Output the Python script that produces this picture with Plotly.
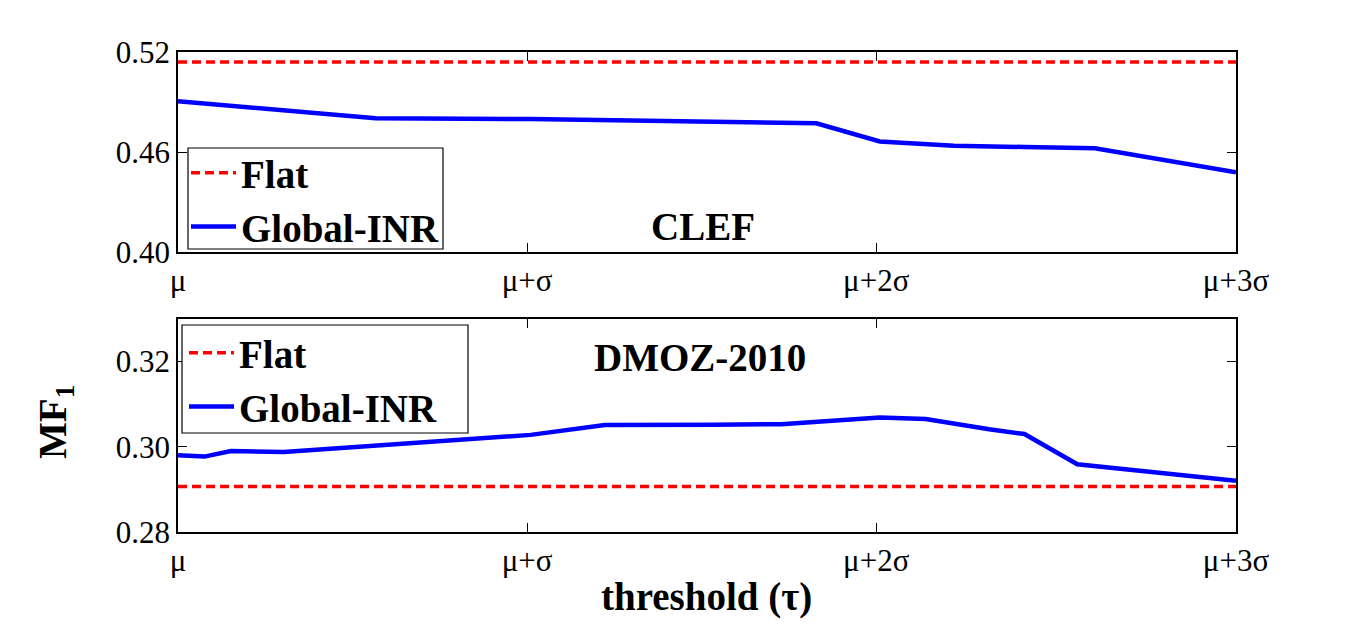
import plotly.graph_objects as go

tick_vals = [0, 0.99, 1.98, 3.0]
tick_text = ["μ", "μ+σ", "μ+2σ", "μ+3σ"]

# CLEF
clef_t = [0, 0.56, 1.0, 1.5, 1.81, 1.99, 2.2, 2.4, 2.6, 3.0]
clef_global = [0.4905, 0.4802, 0.4798, 0.4778, 0.4772, 0.4663, 0.4638, 0.4630, 0.4622, 0.4479]
clef_flat_t = [0, 3]
clef_flat = [0.514, 0.514]

# DMOZ-2010
dmoz_t = [0, 0.075, 0.15, 0.30, 1.0, 1.21, 1.52, 1.71, 1.99, 2.12, 2.30, 2.40, 2.55, 2.85, 3.0]
dmoz_global = [0.2980, 0.2977, 0.2990, 0.2988, 0.3028, 0.3051, 0.3052, 0.3053, 0.3069, 0.3065,
               0.3041, 0.3030, 0.2959, 0.2932, 0.2920]
dmoz_flat_t = [0, 3]
dmoz_flat = [0.2907, 0.2907]

W, H = 1366, 628
FONT = "Liberation Serif"
RED = "#FF0000"
BLUE = "#0000FF"
DASH = "9px,5px"

fig = go.Figure()

fig.add_trace(go.Scatter(x=clef_flat_t, y=clef_flat, mode="lines", name="Flat",
                         line=dict(color=RED, width=3.5, dash=DASH),
                         xaxis="x", yaxis="y", legend="legend"))
fig.add_trace(go.Scatter(x=clef_t, y=clef_global, mode="lines", name="Global-INR",
                         line=dict(color=BLUE, width=4.5),
                         xaxis="x", yaxis="y", legend="legend"))
fig.add_trace(go.Scatter(x=dmoz_flat_t, y=dmoz_flat, mode="lines", name="Flat",
                         line=dict(color=RED, width=3.5, dash=DASH),
                         xaxis="x2", yaxis="y2", legend="legend2"))
fig.add_trace(go.Scatter(x=dmoz_t, y=dmoz_global, mode="lines", name="Global-INR",
                         line=dict(color=BLUE, width=4.5),
                         xaxis="x2", yaxis="y2", legend="legend2"))

xd = [178 / W, 1236 / W]
axis_common = dict(showline=True, linecolor="black", linewidth=1.5, mirror="ticks",
                   ticks="inside", ticklen=9, tickcolor="black", tickwidth=1,
                   showgrid=False, zeroline=False, automargin=False,
                   tickfont=dict(family=FONT, size=31, color="black"))

legend_common = dict(xanchor="left", yanchor="top", borderwidth=0,
                     bgcolor="rgba(0,0,0,0)",
                     font=dict(family=FONT, size=39, color="black", weight="bold"),
                     itemwidth=45, tracegroupgap=0)


def px(x):
    return x / W


def py(y):
    return 1 - y / H


ann_font = dict(family=FONT, size=39, color="black")

fig.update_layout(
    width=W, height=H,
    margin=dict(l=0, r=0, t=0, b=0, pad=0),
    paper_bgcolor="white", plot_bgcolor="white",
    font=dict(family=FONT, color="black"),
    xaxis=dict(domain=xd, anchor="y", range=[0, 3], tickvals=tick_vals, ticktext=tick_text,
               **axis_common),
    yaxis=dict(domain=[py(252), py(52)], anchor="x", range=[0.40, 0.52],
               tickvals=[0.40, 0.46, 0.52], ticktext=["0.40", "0.46", "0.52"], **axis_common),
    xaxis2=dict(domain=xd, anchor="y2", range=[0, 3], tickvals=tick_vals, ticktext=tick_text,
                **axis_common),
    yaxis2=dict(domain=[py(532), py(319)], anchor="x2", range=[0.28, 0.33],
                tickvals=[0.28, 0.30, 0.32], ticktext=["0.28", "0.30", "0.32"], **axis_common),
    legend=dict(x=px(186), y=py(141), **legend_common),
    legend2=dict(x=px(184), y=py(321), **legend_common),
    shapes=[
        dict(type="rect", xref="paper", yref="paper", x0=px(188), x1=px(443), y0=py(249), y1=py(148),
             line=dict(color="black", width=1.2), fillcolor="white", layer="above"),
        dict(type="rect", xref="paper", yref="paper", x0=px(182), x1=px(468), y0=py(433), y1=py(325),
             line=dict(color="black", width=1.2), fillcolor="white", layer="above"),
    ],
    annotations=[
        dict(text="<b>CLEF</b>", x=px(703), y=py(226), xref="paper", yref="paper",
             xanchor="center", yanchor="middle", showarrow=False, font=ann_font),
        dict(text="<b>DMOZ-2010</b>", x=px(700), y=py(357), xref="paper", yref="paper",
             xanchor="center", yanchor="middle", showarrow=False, font=ann_font),
        dict(text="<b>threshold (τ)</b>", x=px(706), y=py(597), xref="paper", yref="paper",
             xanchor="center", yanchor="middle", showarrow=False, font=ann_font),
        dict(text="<b>MF<sub>1</sub></b>", x=px(55), y=py(422), xref="paper", yref="paper",
             xanchor="center", yanchor="middle", showarrow=False, textangle=-90, font=ann_font),
    ],
)

fig.write_html("out.html")
